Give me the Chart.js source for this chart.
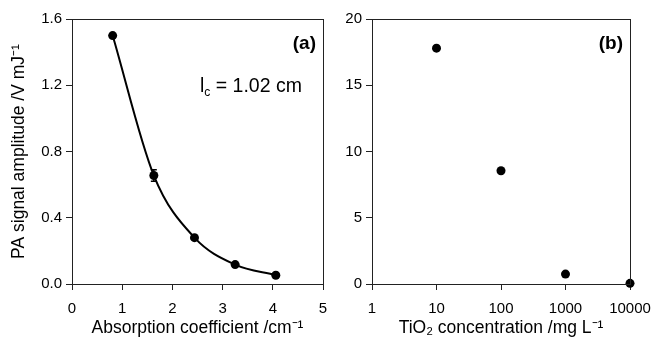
<!DOCTYPE html>
<html>
<head>
<meta charset="utf-8">
<script src="https://cdn.jsdelivr.net/npm/chart.js@4"></script>
<style>
    body { margin: 0; background: #fff; }
    #wrap { position: relative; width: 653px; height: 339px; }
    #chartA { position: absolute; left: 0; top: 0; }
    #chartB { position: absolute; left: 330px; top: 0; }
</style>
</head>
<body>
<div id="wrap">
    <canvas id="chartA" width="330" height="339"></canvas>
    <canvas id="chartB" width="323" height="339"></canvas>
</div>
<script>
// panel (a): signal vs absorption coefficient
const absorptionCoeff = [0.81, 1.63, 2.44, 3.25, 4.06];
const signalA = [1.50, 0.655, 0.28, 0.117, 0.053];
const signalAErr = [0, 0.035, 0, 0, 0];
const ticksA_x = [0, 1, 2, 3, 4, 5];
const ticksA_y = [0, 0.4, 0.8, 1.2, 1.6];

// panel (b): signal vs TiO2 concentration
const tio2Conc = [10, 100, 1000, 10000];
const signalB = [17.8, 8.55, 0.75, 0.05];
const ticksB_x = [1, 10, 100, 1000, 10000];
const ticksB_y = [0, 5, 10, 15, 20];

const FONT = 'Liberation Sans, Arial, sans-serif';
const AXIS = '#222';

// draw a string made of pieces: normal, sub or sup
function richText(ctx, parts, x, y, size, weight, align) {
    const setFont = (s) => { ctx.font = (weight || '') + ' ' + s + 'px ' + FONT; };
    let total = 0;
    parts.forEach(p => {
        const s = p.sub || p.sup ? size * 0.62 : size;
        setFont(s);
        total += ctx.measureText(p.t).width;
    });
    let cx = align === 'right' ? x - total : x;
    ctx.textBaseline = 'alphabetic';
    ctx.textAlign = 'left';
    parts.forEach(p => {
        const s = p.sub || p.sup ? size * 0.62 : size;
        setFont(s);
        let dy = 0;
        if (p.sub) dy = size * 0.2;
        if (p.sup) dy = -size * 0.42;
        ctx.fillText(p.t, cx, y + dy);
        cx += ctx.measureText(p.t).width;
    });
}

const framePlugin = {
    id: 'frame',
    afterDatasetsDraw(chart) {
        const { ctx, chartArea } = chart;
        ctx.save();
        ctx.strokeStyle = AXIS;
        ctx.lineWidth = 1;
        ctx.strokeRect(chartArea.left + 0.5, chartArea.top + 0.5, chartArea.right - chartArea.left, chartArea.bottom - chartArea.top);
        ctx.restore();
    }
};

const errorBarPlugin = {
    id: 'errorBars',
    afterDatasetsDraw(chart) {
        const { ctx, scales } = chart;
        ctx.save();
        ctx.strokeStyle = '#000';
        ctx.lineWidth = 1.5;
        absorptionCoeff.forEach((x, i) => {
            const e = signalAErr[i];
            if (!e) return;
            const px = scales.x.getPixelForValue(x);
            const y1 = scales.y.getPixelForValue(signalA[i] + e);
            const y2 = scales.y.getPixelForValue(signalA[i] - e);
            ctx.beginPath();
            ctx.moveTo(px, y1); ctx.lineTo(px, y2);
            ctx.moveTo(px - 3, y1); ctx.lineTo(px + 3, y1);
            ctx.moveTo(px - 3, y2); ctx.lineTo(px + 3, y2);
            ctx.stroke();
        });
        ctx.restore();
    }
};

function labelPlugin(id, draw) {
    return { id: id, afterDraw(chart) { const ctx = chart.ctx; ctx.save(); ctx.fillStyle = '#000'; draw(ctx, chart.chartArea); ctx.restore(); } };
}

function baseScales(xTicks, yTicks, xTitle, xType, yWidth) {
    return {
        x: {
            type: xType,
            min: xTicks[0],
            max: xTicks[xTicks.length - 1],
            afterBuildTicks: (s) => { s.ticks = xTicks.map(v => ({ value: v })); },
            // fixed height, and no extra side padding from the end labels
            afterFit: (s) => { s.height = 55; s.paddingLeft = 0; s.paddingRight = 0; },
            grid: { drawOnChartArea: false, tickLength: 6, color: AXIS },
            border: { color: AXIS },
            ticks: { color: '#000', font: { family: FONT, size: 15 }, padding: 10, maxRotation: 0, autoSkip: false,
                     callback: (v) => String(v) },
            title: { display: true, text: xTitle, color: '#000', font: { family: FONT, size: 17.5 }, padding: { top: 0, bottom: 0 } }
        },
        y: {
            min: yTicks[0],
            max: yTicks[yTicks.length - 1],
            afterBuildTicks: (s) => { s.ticks = yTicks.map(v => ({ value: v })); },
            afterFit: (s) => { s.width = yWidth; s.paddingTop = 0; s.paddingBottom = 0; },
            grid: { drawOnChartArea: false, tickLength: 6, color: AXIS },
            border: { color: AXIS },
            ticks: { color: '#000', font: { family: FONT, size: 15 }, padding: 4 }
        }
    };
}

const scalesA = baseScales(ticksA_x, ticksA_y, 'Absorption coefficient /cm⁻¹', 'linear', 72);
scalesA.y.ticks.callback = (v) => v.toFixed(1);
scalesA.y.title = { display: true, text: 'PA signal amplitude /V mJ⁻¹', color: '#000', font: { family: FONT, size: 17.5 }, padding: { top: 9, bottom: 0 } };

new Chart(document.getElementById('chartA'), {
    type: 'scatter',
    data: {
        datasets: [{
            data: absorptionCoeff.map((x, i) => ({ x: x, y: signalA[i] })),
            showLine: true,
            cubicInterpolationMode: 'monotone',
            borderColor: '#000',
            borderWidth: 2,
            backgroundColor: '#000',
            pointRadius: 4.5,
            pointBorderWidth: 0,
            clip: false
        }]
    },
    options: {
        responsive: false,
        animation: false,
        layout: { padding: { left: 0, right: 7, top: 19, bottom: 0 } },
        plugins: { legend: { display: false }, tooltip: { enabled: false } },
        scales: scalesA
    },
    plugins: [framePlugin, errorBarPlugin, labelPlugin('labA', (ctx, a) => {
        richText(ctx, [{ t: '(a)' }], a.right - 7, a.top + 30, 19, 'bold', 'right');
        richText(ctx, [{ t: 'l' }, { t: 'c', sub: true }, { t: ' = 1.02 cm' }], a.left + 128, a.top + 73, 19.5, '', 'left');
    })]
});

const scalesB = baseScales(ticksB_x, ticksB_y, 'TiO₂ concentration /mg L⁻¹', 'logarithmic', 42);
scalesB.y.ticks.callback = (v) => String(v);

new Chart(document.getElementById('chartB'), {
    type: 'scatter',
    data: {
        datasets: [{
            data: tio2Conc.map((x, i) => ({ x: x, y: signalB[i] })),
            backgroundColor: '#000',
            pointRadius: 4.5,
            pointBorderWidth: 0,
            clip: false
        }]
    },
    options: {
        responsive: false,
        animation: false,
        layout: { padding: { left: 0, right: 23, top: 19, bottom: 0 } },
        plugins: { legend: { display: false }, tooltip: { enabled: false } },
        scales: scalesB
    },
    plugins: [framePlugin, labelPlugin('labB', (ctx, a) => {
        richText(ctx, [{ t: '(b)' }], a.right - 7, a.top + 30, 19, 'bold', 'right');
    })]
});
</script>
</body>
</html>
